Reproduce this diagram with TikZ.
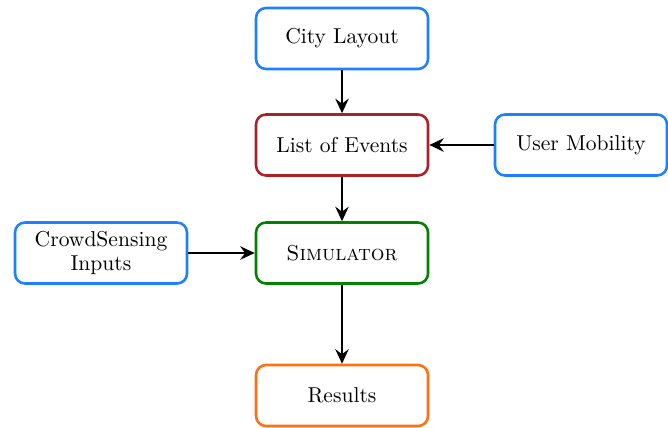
\documentclass[tikz,border=0pt]{standalone}
\usetikzlibrary{arrows.meta}
\definecolor{cblue}{RGB}{30,128,255}
\definecolor{cred}{RGB}{168,34,40}
\definecolor{cgreen}{RGB}{0,130,0}
\definecolor{corange}{RGB}{255,112,20}
\begin{document}
\begin{tikzpicture}[x=0.45pt,y=-0.45pt,
  box/.style={draw, line width=1.15pt, rounded corners=4.5pt, minimum width=172*0.45pt, minimum height=61*0.45pt, align=center, font=\fontsize{9.7}{11.2}\selectfont, inner sep=0pt, text=black},
  arr/.style={-{Stealth[length=6.5pt,width=6pt,inset=2.2pt]}, line width=1.2pt}]
\useasboundingbox (0,0) rectangle (668,427);
\node[box, draw=cblue] (city) at (342,38.5) {City Layout};
\node[box, draw=cred] (events) at (342,145) {List of Events};
\node[box, draw=cblue] (mob) at (581,145) {User Mobility};
\node[box, draw=cblue] (crowd) at (101,253) {CrowdSensing\\Inputs};
\node[box, draw=cgreen] (sim) at (342,253) {\textsc{Simulator}};
\node[box, draw=corange] (res) at (342,395.5) {Results};
\draw[arr] (city) -- (events);
\draw[arr] (mob) -- (events);
\draw[arr] (events) -- (sim);
\draw[arr] (crowd) -- (sim);
\draw[arr] (sim) -- (res);
\end{tikzpicture}
\end{document}
